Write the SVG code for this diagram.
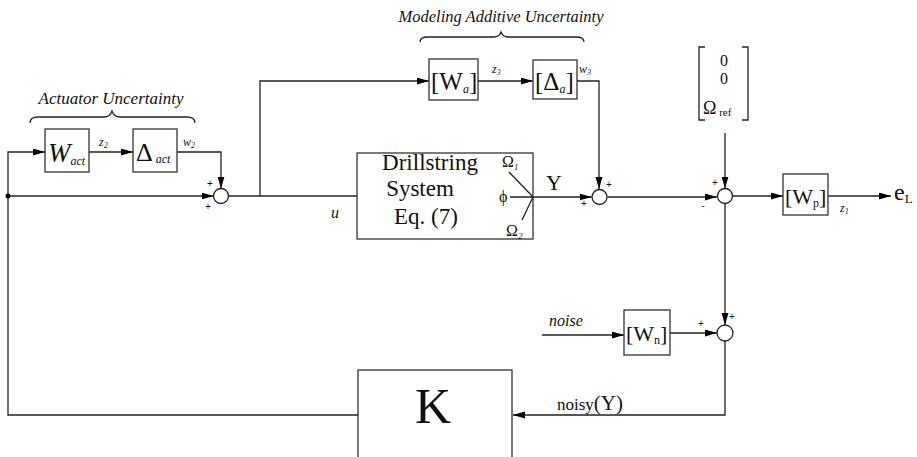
<svg xmlns="http://www.w3.org/2000/svg" width="917" height="457" viewBox="0 0 917 457">
<defs>
<marker id="ah" markerUnits="userSpaceOnUse" markerWidth="13" markerHeight="8" refX="12" refY="3.5" orient="auto">
<path d="M0,0 L12,3.5 L0,7 z" fill="#000"/>
</marker>
<style>
.ln{fill:none;stroke:#222;stroke-width:1.3}
.bx{fill:#fff;stroke:#333;stroke-width:1.3}
.sm{fill:#fff;stroke:#222;stroke-width:1.3}
.t{font-family:"Liberation Serif","Times New Roman",serif;fill:#111}
.it{font-style:italic}
.sg{font-family:"Liberation Sans",Arial,sans-serif;font-size:10px;fill:#111;text-anchor:middle;dominant-baseline:central}
.ar{marker-end:url(#ah)}
</style>
</defs>
<g id="connectors">
<path class="ln ar" d="M358,415 H8 V152 H45"/>
<path class="ln ar" d="M8,196 H213.5"/>
<circle cx="8" cy="196" r="2.5" fill="#000"/>
<path class="ln ar" d="M89,152 H133"/>
<path class="ln ar" d="M177,152 H221 V188.5"/>
<path class="ln" d="M228.5,196 H357"/>
<path class="ln ar" d="M260,196 V81 H429"/>
<path class="ln ar" d="M478,81 H533"/>
<path class="ln ar" d="M577,81 H599 V189"/>
<path class="ln ar" d="M533,197 H591.5"/>
<path class="ln ar" d="M607.5,197 H717"/>
<path class="ln ar" d="M725,133 V188.5"/>
<path class="ln ar" d="M732.5,196 H783"/>
<path class="ln ar" d="M828,196 H891"/>
<path class="ln ar" d="M725,204 V325"/>
<path class="ln ar" d="M542,335 H624"/>
<path class="ln ar" d="M670,333 H717"/>
<path class="ln ar" d="M725,341 V415 H513"/>
</g>
<g id="brace-actuator">
<path class="ln" d="M30,123 Q30,117 38,117 H104 Q110,117 112,111 Q114,117 120,117 H187 Q195,117 195,123" stroke-width="1"/>
<text class="t it" x="111" y="104" font-size="17" text-anchor="middle">Actuator Uncertainty</text>
</g>
<g id="brace-modeling">
<path class="ln" d="M420,42 Q420,37 428,37 H494 Q499,37 501,32 Q503,37 508,37 H576 Q584,37 584,42" stroke-width="1"/>
<text class="t it" x="501" y="22" font-size="16.5" text-anchor="middle">Modeling Additive Uncertainty</text>
</g>
<g id="Wact">
<rect class="bx" x="45" y="129" width="44" height="43"/>
<text class="t it" x="48" y="162" font-size="27">W<tspan font-size="12" dy="3">act</tspan></text>
</g>
<text class="t it" x="99" y="146" font-size="12">z<tspan font-size="8" dy="2">2</tspan></text>
<g id="Dact">
<rect class="bx" x="133" y="129" width="44" height="43"/>
<text class="t" x="136" y="161" font-size="26">Δ<tspan class="it" font-size="12" dy="2"> act</tspan></text>
</g>
<text class="t it" x="183" y="146" font-size="12">w<tspan font-size="8" dy="2">2</tspan></text>
<g id="sum1">
<circle class="sm" cx="221" cy="196" r="7.5"/>
<text class="sg" x="210" y="183">+</text>
<text class="sg" x="208" y="206">+</text>
</g>
<text class="t it" x="331" y="218" font-size="16">u</text>
<g id="Wa">
<rect class="bx" x="429" y="59" width="49" height="41"/>
<text class="t" x="431" y="90" font-size="25">[W<tspan class="it" font-size="12" dy="3">a</tspan><tspan dy="-3">]</tspan></text>
</g>
<text class="t it" x="492" y="73" font-size="12">z<tspan font-size="8" dy="2">3</tspan></text>
<g id="Da">
<rect class="bx" x="533" y="60" width="44" height="39"/>
<text class="t" x="535" y="90" font-size="25">[Δ<tspan class="it" font-size="12" dy="3">a</tspan><tspan dy="-3">]</tspan></text>
</g>
<text class="t it" x="579" y="73" font-size="12">w<tspan font-size="8" dy="2">3</tspan></text>
<g id="drillstring">
<rect class="bx" x="357" y="153" width="176" height="86"/>
<text class="t" x="430" y="170" font-size="23" text-anchor="middle">Drillstring</text>
<text class="t" x="420" y="196" font-size="23" text-anchor="middle">System</text>
<text class="t" x="426" y="224" font-size="23" text-anchor="middle">Eq. (7)</text>
<path class="ln" d="M509,172 L533,197 M510,197 H533 M522,220 L533,197" stroke-width="1"/>
<text class="t" x="502" y="167" font-size="16">Ω<tspan class="it" font-size="9" dy="3">1</tspan></text>
<text class="t" x="499" y="202" font-size="16">ϕ</text>
<text class="t" x="506" y="236" font-size="16">Ω<tspan class="it" font-size="9" dy="3">2</tspan></text>
</g>
<text class="t" x="546" y="190" font-size="22">Y</text>
<g id="sum2">
<circle class="sm" cx="599.5" cy="197" r="7.5"/>
<text class="sg" x="584" y="203">+</text>
<text class="sg" x="609" y="184">+</text>
</g>
<g id="reference">
<path class="ln" d="M705,47 H699 V120 H705 M742,47 H748 V120 H742" stroke-width="1.2"/>
<text class="t" x="724" y="66" font-size="16" text-anchor="middle">0</text>
<text class="t" x="724" y="84" font-size="16" text-anchor="middle">0</text>
<text class="t" x="703" y="114" font-size="18">Ω<tspan font-size="11" dy="2"> ref</tspan></text>
</g>
<g id="sum3">
<circle class="sm" cx="725" cy="196" r="7.5"/>
<text class="sg" x="715" y="182">+</text>
<text class="sg" x="703" y="205">-</text>
</g>
<g id="Wp">
<rect class="bx" x="783" y="174" width="45" height="41"/>
<text class="t" x="785" y="204" font-size="22">[W<tspan font-size="12" dy="3">p</tspan><tspan dy="-3">]</tspan></text>
</g>
<text class="t it" x="840" y="212" font-size="12">z<tspan font-size="8" dy="2">1</tspan></text>
<text class="t" x="894" y="200" font-size="24">e<tspan font-size="13" dy="3">L</tspan></text>
<g id="Wn">
<rect class="bx" x="624" y="310" width="46" height="45"/>
<text class="t" x="626" y="341" font-size="22">[W<tspan font-size="12" dy="3">n</tspan><tspan dy="-3">]</tspan></text>
</g>
<text class="t it" x="549" y="326" font-size="16">noise</text>
<g id="sum4">
<circle class="sm" cx="725" cy="333" r="8"/>
<text class="sg" x="732" y="316">+</text>
<text class="sg" x="701" y="323">+</text>
</g>
<text class="t" x="557" y="410" font-size="17">noisy<tspan font-size="21">(Y)</tspan></text>
<g id="K">
<rect class="bx" x="358" y="370" width="154" height="100"/>
<text class="t" x="433" y="423" font-size="50" text-anchor="middle">K</text>
</g>
</svg>
